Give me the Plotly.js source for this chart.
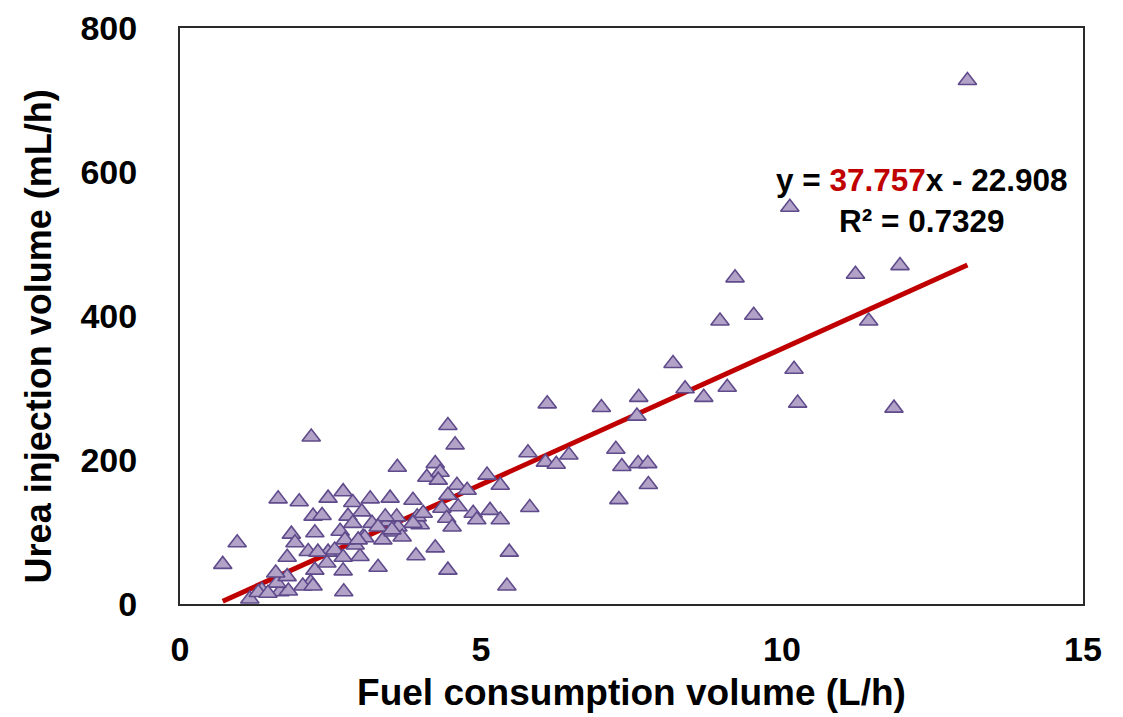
<!DOCTYPE html>
<html>
<head>
<meta charset="utf-8">
<script src="https://cdn.plot.ly/plotly-3.0.1.min.js"></script>
<style>
  html, body { margin: 0; padding: 0; background: #ffffff; }
  #chart { width: 1123px; height: 717px; }
</style>
</head>
<body>
<div id="chart"></div>
<script>
// Fuel consumption (L/h) against urea injection (mL/h), one entry per observation
const fuelConsumption = [
  13.08, 10.13, 11.22, 11.96, 9.22, 8.97, 9.53, 11.44, 8.19, 8.39,
  9.09, 8.70, 10.20, 10.26, 11.86, 7.62, 7.59, 7.00, 6.10, 5.78,
  6.07, 6.25, 6.46, 7.24, 7.34, 7.61, 7.77, 7.78, 7.29, 5.81,
  5.47, 5.43,
  4.45, 4.57, 2.18, 3.61, 4.24, 4.10, 4.32, 4.29, 4.60, 4.77,
  5.10, 5.32, 4.45, 4.35, 4.62, 4.43, 4.52, 4.87, 4.93, 5.15,
  5.32, 3.99, 4.24, 3.92, 4.45, 3.87, 3.49, 3.16, 3.94, 3.87,
  3.46, 3.62, 3.04, 3.37, 3.54, 3.69, 3.29, 4.04, 3.60, 3.41,
  1.63, 1.98, 2.46, 2.71, 2.87, 3.02, 2.21, 2.36, 2.79, 2.87,
  2.66, 2.24, 1.85, 1.91, 0.95, 0.71, 1.78, 2.13, 2.24, 2.46,
  2.57, 2.71, 2.99, 2.91, 3.07, 2.74, 2.96, 3.19, 3.29, 3.52,
  2.71, 2.72, 2.17, 2.04, 2.21, 1.66, 1.80, 1.36, 1.61, 1.16,
  1.30, 1.78, 1.59, 1.46, 2.44, 2.29
];
const ureaInjection = [
  727, 551, 458, 470, 453, 393, 401, 393, 334, 299,
  301, 287, 326, 279, 272, 287, 261, 273, 278, 210,
  197, 194, 207, 215, 191, 195, 195, 166, 145, 134,
  72, 25,
  248, 221, 232, 190, 195, 176, 183, 172, 165, 158,
  179, 165, 151, 133, 135, 119, 107, 126, 117, 130,
  117, 110, 78, 67, 47, 144, 147, 146, 121, 112,
  114, 107, 93, 89, 100, 93, 51, 126, 121, 121,
  146, 142, 147, 156, 141, 128, 122, 123, 122, 112,
  101, 99, 97, 85, 85, 55, 65, 73, 47, 72,
  75, 65, 66, 82, 92, 89, 89, 112, 107, 103,
  46, 17, 30, 25, 25, 17, 18, 19, 29, 7,
  16, 38, 43, 15, 57, 72
];

// Linear fit reported for the data set
const fitSlope = 37.757;
const fitIntercept = -22.908;
const fitR2 = 0.7329;

const xTicks = [0, 5, 10, 15];
const yTicks = [0, 200, 400, 600, 800];

const xMin = Math.min(...fuelConsumption);
const xMax = Math.max(...fuelConsumption);
const fitX = [xMin, xMax];
const fitY = fitX.map(v => fitSlope * v + fitIntercept);

const scatter = {
  x: fuelConsumption,
  y: ureaInjection,
  type: 'scatter',
  mode: 'markers',
  marker: {
    symbol: 'triangle-up',
    size: 16,
    color: '#b3a2c7',
    line: { color: '#5f4b8b', width: 1.6 }
  },
  hoverinfo: 'x+y',
  showlegend: false
};

const trend = {
  x: fitX,
  y: fitY,
  type: 'scatter',
  mode: 'lines',
  line: { color: '#c00000', width: 5 },
  hoverinfo: 'skip',
  showlegend: false
};

const fmt = (v, d) => Math.abs(v).toFixed(d);
const eqText =
  'y = <span style="color:#c00000">' + fitSlope.toFixed(3) + '</span>x ' +
  (fitIntercept < 0 ? '- ' : '+ ') + fmt(fitIntercept, 3) +
  '<br>R² = ' + fitR2.toFixed(4);

const baseFont = 'Liberation Sans, Arial, sans-serif';

const layout = {
  width: 1123,
  height: 717,
  margin: { l: 180, r: 40, t: 28, b: 113 },
  paper_bgcolor: '#ffffff',
  plot_bgcolor: '#ffffff',
  font: { family: baseFont, color: '#000000' },
  xaxis: {
    range: [0, 15],
    tickvals: xTicks,
    ticktext: xTicks.map(String),
    showgrid: false,
    zeroline: false,
    showline: true,
    mirror: true,
    linecolor: '#2a2a2a',
    linewidth: 2,
    ticks: '',
    ticklabelstandoff: 14,
    tickfont: { size: 34, family: baseFont, weight: 'bold' },
    title: {
      text: '<b>Fuel consumption volume (L/h)</b>',
      font: { size: 37, family: baseFont },
      standoff: 12
    }
  },
  yaxis: {
    range: [0, 800],
    tickvals: yTicks,
    ticktext: yTicks.map(String),
    showgrid: false,
    zeroline: false,
    showline: true,
    mirror: true,
    linecolor: '#2a2a2a',
    linewidth: 2,
    ticks: '',
    ticklabelstandoff: 34,
    tickfont: { size: 34, family: baseFont, weight: 'bold' }
  },
  annotations: [
    {
      // y-axis title, rotated alongside the axis
      x: -0.157,
      y: 0.465,
      xref: 'paper',
      yref: 'paper',
      text: '<b>Urea injection volume (mL/h)</b>',
      textangle: -90,
      showarrow: false,
      xanchor: 'center',
      yanchor: 'middle',
      font: { size: 36, family: baseFont, color: '#000000' }
    },
    {
      x: 12.33,
      y: 560,
      xref: 'x',
      yref: 'y',
      text: '<b>' + eqText + '</b>',
      showarrow: false,
      align: 'center',
      xanchor: 'center',
      yanchor: 'middle',
      font: { size: 31.5, family: baseFont, color: '#000000' }
    }
  ]
};

Plotly.newPlot('chart', [trend, scatter], layout, { displayModeBar: false, staticPlot: true });
</script>
</body>
</html>
